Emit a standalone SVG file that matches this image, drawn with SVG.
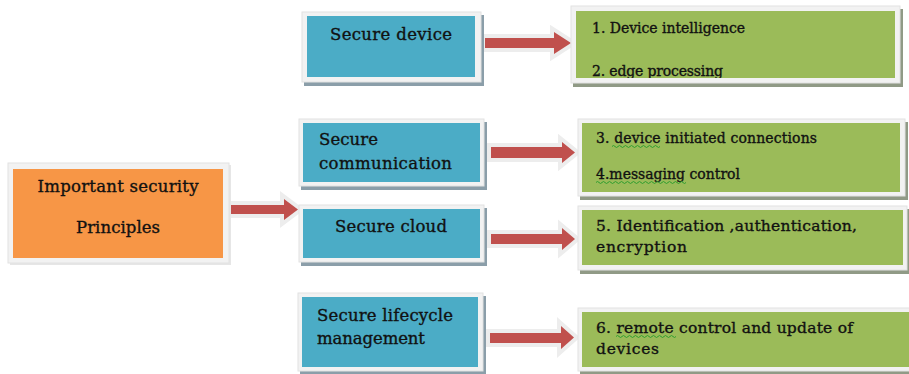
<svg xmlns="http://www.w3.org/2000/svg" width="909" height="374" viewBox="0 0 909 374">
<defs>
<style>
.frame{fill:#f2f2f2;stroke:#e2e2e2;stroke-width:1}
.sb{fill:#8b9ea9}
.sg{fill:#909a86}
.so{fill:#e6e6e6}
.blue{fill:#4bacc6}
.green{fill:#9bbb59}
.orange{fill:#f79646}
.t{font-family:"DejaVu Serif","Liberation Serif",serif;fill:#111;stroke:#111;stroke-width:0.35}
.tb{font-size:16.5px}
.tg{font-size:14px}
.tg2{font-size:15.5px}
.halo{fill:#ededed;stroke:#ededed;stroke-width:8;stroke-linejoin:miter}
.arr{fill:#c0504d}
.sq{fill:none;stroke:#2e9e2e;stroke-width:1}
</style>
<clipPath id="c1"><rect x="576" y="11" width="319" height="67"/></clipPath>
</defs>

<g id="connectors">
  <polygon class="halo" points="216,205 284,205 284,199 298,209.5 284,220 284,214 216,214"/>
  <polygon class="arr" points="216,205 284,205 284,199 298,209.5 284,220 284,214 216,214"/>
  <polygon class="halo" points="485,38 554,38 554,32 571,43 554,54 554,48 485,48"/>
  <polygon class="arr" points="485,38 554,38 554,32 571,43 554,54 554,48 485,48"/>
  <polygon class="halo" points="491,147 562,147 562,142 575,152.5 562,163 562,158 491,158"/>
  <polygon class="arr" points="491,147 562,147 562,142 575,152.5 562,163 562,158 491,158"/>
  <polygon class="halo" points="491,234 562,234 562,228 575,239 562,250 562,244 491,244"/>
  <polygon class="arr" points="491,234 562,234 562,228 575,239 562,250 562,244 491,244"/>
  <polygon class="halo" points="490,333 561,333 561,326 574,337.5 561,349 561,343 490,343"/>
  <polygon class="arr" points="490,333 561,333 561,326 574,337.5 561,349 561,343 490,343"/>
</g>

<g id="principles">
  <rect class="so" x="10" y="165" width="221" height="100"/>
  <rect class="frame" x="8" y="163" width="221" height="100"/>
  <rect class="orange" x="13" y="169" width="210" height="89"/>
  <text class="t tb" x="118" y="192" text-anchor="middle" textLength="161">Important security</text>
  <text class="t tb" x="118" y="233" text-anchor="middle" textLength="84">Principles</text>
</g>

<g id="secure-device">
  <rect class="sb" x="304" y="15" width="180" height="71"/>
  <rect class="frame" x="302" y="12" width="179" height="70"/>
  <rect class="blue" x="307" y="16" width="168" height="61"/>
  <text class="t tb" x="391" y="40" text-anchor="middle" textLength="122">Secure device</text>
</g>

<g id="secure-communication">
  <rect class="sb" x="301" y="122" width="186" height="68"/>
  <rect class="frame" x="299" y="119" width="185" height="67"/>
  <rect class="blue" x="303" y="123" width="177" height="59"/>
  <text class="t tb" x="319" y="145" textLength="59">Secure</text>
  <text class="t tb" x="319" y="169" textLength="133">communication</text>
</g>

<g id="secure-cloud">
  <rect class="sb" x="301" y="208" width="186" height="58"/>
  <rect class="frame" x="299" y="205" width="185" height="57"/>
  <rect class="blue" x="303" y="209" width="177" height="49"/>
  <text class="t tb" x="391" y="232" text-anchor="middle" textLength="112">Secure cloud</text>
</g>

<g id="secure-lifecycle">
  <rect class="sb" x="300" y="296" width="186" height="78"/>
  <rect class="frame" x="298" y="293" width="185" height="78"/>
  <rect class="blue" x="302" y="297" width="176" height="70"/>
  <text class="t tb" x="317" y="321" textLength="136">Secure lifecycle</text>
  <text class="t tb" x="317" y="344" textLength="108">management</text>
</g>

<g id="green-1">
  <rect class="sg" x="573" y="9" width="330" height="78"/>
  <rect class="frame" x="571" y="6" width="329" height="77"/>
  <rect class="green" x="576" y="11" width="319" height="67"/>
  <text class="t tg" x="592" y="33" textLength="153">1. Device intelligence</text>
  <text class="t tg" x="592" y="75.5" textLength="131" clip-path="url(#c1)">2. edge processing</text>
</g>

<g id="green-2">
  <rect class="sg" x="580" y="122" width="328" height="78"/>
  <rect class="frame" x="578" y="119" width="327" height="77"/>
  <rect class="green" x="582" y="123" width="318" height="69"/>
  <text class="t tg" x="596" y="143" textLength="221">3. device initiated connections</text>
  <text class="t tg" x="596" y="179" textLength="144">4.messaging control</text>
  <path class="sq" d="M612,146.5 q1.5,-2 3,0 t3,0 t3,0 t3,0 t3,0 t3,0 t3,0 t3,0 t3,0 t3,0 t3,0 t3,0 t3,0 t3,0 t3,0 t3,0"/>
  <path class="sq" d="M596,182.5 q1.5,-2 3,0 t3,0 t3,0 t3,0 t3,0 t3,0 t3,0 t3,0 t3,0 t3,0 t3,0 t3,0 t3,0 t3,0 t3,0 t3,0 t3,0 t3,0 t3,0 t3,0 t3,0 t3,0 t3,0 t3,0 t3,0 t3,0 t3,0 t3,0 t3,0 t3,0"/>
</g>

<g id="green-3">
  <rect class="sg" x="580" y="209" width="330" height="65"/>
  <rect class="frame" x="578" y="206" width="329" height="64"/>
  <rect class="green" x="582" y="210" width="321" height="55"/>
  <text class="t tg2" x="596" y="231" textLength="261">5. Identification ,authentication,</text>
  <text class="t tg2" x="596" y="252" textLength="91">encryption</text>
</g>

<g id="green-4">
  <rect class="sg" x="580" y="311" width="335" height="65"/>
  <rect class="frame" x="578" y="308" width="335" height="63"/>
  <rect class="green" x="582" y="312" width="330" height="55"/>
  <text class="t tg2" x="596" y="333" textLength="257">6. remote control and update of</text>
  <text class="t tg2" x="596" y="354" textLength="63">devices</text>
  <path class="sq" d="M616,336.5 q1.5,-2 3,0 t3,0 t3,0 t3,0 t3,0 t3,0 t3,0 t3,0 t3,0 t3,0 t3,0 t3,0 t3,0 t3,0 t3,0 t3,0 t3,0 t3,0 t3,0 t3,0"/>
</g>
</svg>
